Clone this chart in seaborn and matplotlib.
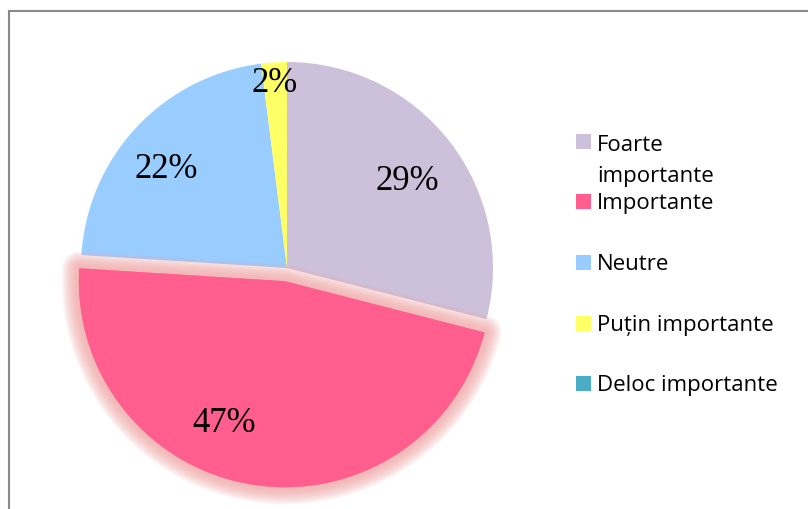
import numpy as np
import pandas as pd
import seaborn as sns
import matplotlib.pyplot as plt
import matplotlib.patheffects as pe
from matplotlib.patches import Rectangle
from matplotlib.transforms import ScaledTranslation

# date
categories = ['Foarte\nimportante', 'Importante', 'Neutre', 'Puțin importante', 'Deloc importante']
values = [29, 47, 22, 2, 0]
colors = ['#ccc0da', '#ff5e8e', '#99ccff', '#ffff66', '#4bacc6']
explode = [0, 0.065, 0, 0, 0]

sns.set_style('white')
plt.rcParams['font.family'] = ['Open Sans', 'DejaVu Sans']

W, H = 808, 509
fig = plt.figure(figsize=(W / 100, H / 100), dpi=100)

# pie centre / radius in pixels
cx, cy, r = 287, 268, 206
L = 1.15
size = 2 * L * r
ax = fig.add_axes([(cx - L * r) / W, (H - cy - L * r) / H, size / W, size / H])


def fmt(p):
    return '%d%%' % round(p) if p > 0.5 else ''


wedges, texts, autotexts = ax.pie(values, colors=colors, startangle=90, counterclock=False,
                                  explode=explode, autopct=fmt, pctdistance=0.74,
                                  wedgeprops=dict(linewidth=0),
                                  textprops=dict(family='Liberation Serif', size=25, color='black'))
ax.set_xlim(-L, L)
ax.set_ylim(-L, L)
ax.axis('off')

# label placement like Excel (radius, angle nudge)
lab_r = [0.74, 0.72, 0.78, 0.93, 0.7]
lab_nudge = [0, -15, 2, 0, 0]
shift = ScaledTranslation(0, -7 / 100, fig.dpi_scale_trans)
for w, t, rr, nd in zip(wedges, autotexts, lab_r, lab_nudge):
    a = np.deg2rad((w.theta1 + w.theta2) / 2 + nd)
    x0, y0 = w.center
    t.set_position((x0 + rr * np.cos(a), y0 + rr * np.sin(a)))
    t.set_transform(ax.transData + shift)

# glow around the exploded slice
glow = []
for i in range(12):
    lw = (34 - 2.7 * i) * 0.72
    glow.append(pe.Stroke(linewidth=lw, foreground='#f3a5a5', alpha=0.11, joinstyle='round'))
glow.append(pe.Normal())
wedges[1].set_path_effects(glow)
wedges[1].set_zorder(3)
autotexts[1].set_zorder(4)

# legend drawn by hand, Excel style
leg_y = [141.5, 201.5, 262.5, 323.5, 383.5]
for lab, col, yy in zip(categories, colors, leg_y):
    fig.patches.append(Rectangle((576 / W, 1 - (yy + 7.5) / H), 15 / W, 15 / H,
                                 transform=fig.transFigure, facecolor=col, edgecolor='none'))
    nl = lab.count('\n')
    fig.text(597 / W, 1 - (yy + 7.5 + 33 * nl) / H, lab, fontsize=16, va='baseline', ha='left',
             linespacing=1.65, color='black')

# outer frame
fig.patches.append(Rectangle((9 / W, -0.05), 1, 1.05 - 11 / H, transform=fig.transFigure,
                             fill=False, edgecolor='#898989', linewidth=1.5))

fig.savefig('out.png', dpi=100)
